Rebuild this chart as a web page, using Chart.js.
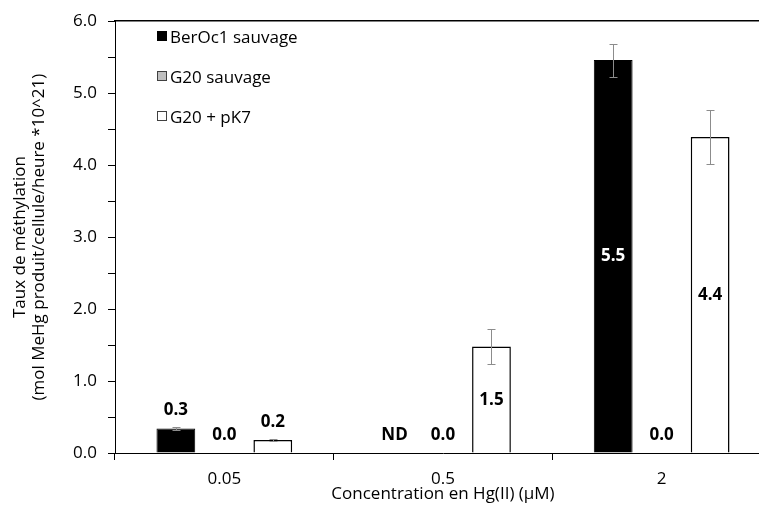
<!DOCTYPE html>
<html>
<head>
<meta charset="utf-8">
<script src="https://cdn.jsdelivr.net/npm/chart.js@4.4.0/dist/chart.umd.min.js"></script>
<style>
    html, body { margin: 0; padding: 0; background: #fff; overflow: hidden; }
    #wrap { position: relative; width: 759px; height: 510px; overflow: hidden; }
    #chart { position: absolute; left: 0; top: 0; }
    #legend { position: absolute; left: 157px; top: 26px; font-family: "Open Sans", sans-serif; font-size: 17px; color: #000; }
    .item { display: flex; align-items: center; height: 20px; margin-bottom: 20px; white-space: nowrap; }
    .sw { width: 10px; height: 10px; margin-right: 3px; box-sizing: border-box; }
</style>
</head>
<body>
<div id="wrap">
    <canvas id="chart" width="772" height="510"></canvas>
    <div id="legend"></div>
</div>
<script>
const categories = ['0.05', '0.5', '2'];
const seriesNames = ['BerOc1 sauvage', 'G20 sauvage', 'G20 + pK7'];

const berocValues = [0.34, null, 5.46];
const g20Values = [0, 0, 0];
const pk7Values = [0.18, 1.48, 4.39];

const berocErrors = [0.02, null, 0.23];
const g20Errors = [0, 0, 0];
const pk7Errors = [0.01, 0.24, 0.37];

const berocLabels = ['0.3', 'ND', '5.5'];
const g20Labels = ['0.0', '0.0', '0.0'];
const pk7Labels = ['0.2', '1.5', '4.4'];

const fontFamily = '"Open Sans", sans-serif';

// error bars, grey with small caps
const errorBars = {
    id: 'errorBars',
    afterDatasetsDraw(chart) {
        const ctx = chart.ctx;
        const yScale = chart.scales.y;
        chart.data.datasets.forEach((ds, i) => {
            chart.getDatasetMeta(i).data.forEach((bar, j) => {
                const v = ds.data[j];
                const e = ds.errors[j];
                if (v == null || !e) return;
                const top = Math.round(yScale.getPixelForValue(v + e)) + 0.5;
                const bot = Math.round(yScale.getPixelForValue(v - e)) + 0.5;
                const x = Math.round(bar.x) + 0.5;
                ctx.save();
                ctx.strokeStyle = '#8c8c8c';
                ctx.lineWidth = 1;
                ctx.beginPath();
                ctx.moveTo(x, top); ctx.lineTo(x, bot);
                ctx.moveTo(x - 4, top); ctx.lineTo(x + 4, top);
                ctx.moveTo(x - 4, bot); ctx.lineTo(x + 4, bot);
                ctx.stroke();
                ctx.restore();
            });
        });
    }
};

// value labels: inside tall bars, above short ones
const valueLabels = {
    id: 'valueLabels',
    afterDatasetsDraw(chart) {
        const ctx = chart.ctx;
        const yScale = chart.scales.y;
        const xScale = chart.scales.x;
        const base = yScale.getPixelForValue(0);
        ctx.save();
        ctx.font = 'bold 17px ' + fontFamily;
        ctx.textAlign = 'center';
        ctx.textBaseline = 'middle';
        chart.data.datasets.forEach((ds, i) => {
            const meta = chart.getDatasetMeta(i);
            ds.valueLabels.forEach((txt, j) => {
                const bar = meta.data[j];
                const v = ds.data[j];
                let x = bar && isFinite(bar.x) ? bar.x : xScale.getPixelForValue(j);
                let y, color = '#000';
                if (v == null) {
                    y = base - 18;
                } else {
                    const top = yScale.getPixelForValue(v);
                    if (base - top > 40) {
                        y = (top + base) / 2;
                        if (ds.backgroundColor === '#000000') color = '#fff';
                    } else {
                        y = top - 18;
                    }
                }
                ctx.fillStyle = color;
                ctx.fillText(txt, x, y);
            });
        });
        ctx.restore();
    }
};

const ctx = document.getElementById('chart');
const chart = new Chart(ctx, {
    type: 'bar',
    data: {
        labels: categories,
        datasets: [
            {
                label: seriesNames[0],
                data: berocValues,
                errors: berocErrors,
                valueLabels: berocLabels,
                backgroundColor: '#000000',
                borderColor: '#000000',
                borderWidth: 1
            },
            {
                label: seriesNames[1],
                data: g20Values,
                errors: g20Errors,
                valueLabels: g20Labels,
                backgroundColor: '#bfbfbf',
                borderColor: '#595959',
                borderWidth: 1
            },
            {
                label: seriesNames[2],
                data: pk7Values,
                errors: pk7Errors,
                valueLabels: pk7Labels,
                backgroundColor: '#ffffff',
                borderColor: '#000000',
                borderWidth: 1.5
            }
        ]
    },
    options: {
        responsive: false,
        animation: false,
        layout: { padding: { top: 16, right: 1, left: 0, bottom: 0 } },
        categoryPercentage: 0.665,
        barPercentage: 0.8,
        plugins: {
            legend: { display: false },
            tooltip: { enabled: false }
        },
        scales: {
            x: {
                type: 'category',
                position: 'bottom',
                grid: {
                    offset: true,
                    drawOnChartArea: false,
                    drawTicks: true,
                    tickLength: 7,
                    color: '#000'
                },
                border: { display: true, color: '#000', width: 1 },
                ticks: {
                    color: '#000',
                    padding: 9,
                    font: { family: fontFamily, size: 17 }
                },
                title: {
                    display: true,
                    text: 'Concentration en Hg(II) (µM)',
                    color: '#000',
                    font: { family: fontFamily, size: 17 },
                    padding: { top: 0, bottom: 6 }
                },
                afterFit(scale) { scale.height = 57; }
            },
            x2: {
                type: 'category',
                position: 'top',
                labels: categories,
                grid: { display: false },
                ticks: { display: false },
                border: { display: true, color: '#000', width: 1.5 },
                afterFit(scale) { scale.height = 0; }
            },
            y: {
                min: 0,
                max: 6,
                grid: {
                    drawOnChartArea: false,
                    drawTicks: true,
                    tickLength: 7,
                    color: '#000'
                },
                border: { display: true, color: '#000', width: 1 },
                ticks: {
                    stepSize: 0.5,
                    autoSkip: false,
                    color: '#000',
                    padding: 11,
                    font: { family: fontFamily, size: 17 },
                    callback: (v) => (v % 1 === 0 ? v.toFixed(1) : '')
                },
                title: {
                    display: true,
                    text: ['Taux de méthylation', '(mol MeHg produit/cellule/heure *10^21)'],
                    color: '#000',
                    font: { family: fontFamily, size: 17, lineHeight: 1.1 },
                    padding: { top: 11, bottom: 0 }
                },
                afterFit(scale) { scale.width = 115; }
            }
        }
    },
    plugins: [errorBars, valueLabels]
});

// legend drawn from the datasets, top-left inside the plot
const legendBox = document.getElementById('legend');
chart.data.datasets.forEach((ds) => {
    const item = document.createElement('div');
    item.className = 'item';
    const sw = document.createElement('span');
    sw.className = 'sw';
    sw.style.background = ds.backgroundColor;
    sw.style.border = '1px solid ' + (ds.backgroundColor === '#000000' ? '#000' : '#404040');
    const label = document.createElement('span');
    label.textContent = ds.label;
    item.appendChild(sw);
    item.appendChild(label);
    legendBox.appendChild(item);
});
</script>
</body>
</html>
